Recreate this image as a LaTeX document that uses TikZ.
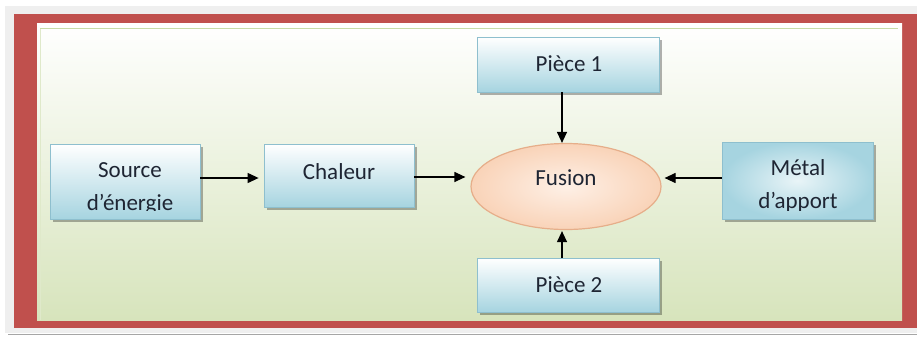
\documentclass[tikz,border=0pt]{standalone}
\usepackage{fontspec}
\setmainfont{Carlito}
\usetikzlibrary{shapes.geometric,shadows,arrows.meta}
\definecolor{redframe}{HTML}{C0504D}
\definecolor{outergray}{HTML}{EFEFEF}
\definecolor{panelgreen}{HTML}{D7E4BC}
\definecolor{panelline}{HTML}{C9DBA6}
\definecolor{boxblue}{HTML}{A6D4E0}
\definecolor{boxline}{HTML}{8EBFCE}
\definecolor{peachin}{HTML}{FEF0E6}
\definecolor{peachout}{HTML}{F9D3B8}
\definecolor{peachline}{HTML}{E6AE8A}
\definecolor{textdark}{HTML}{1E2533}
\begin{document}
\begin{tikzpicture}[x=1pt,y=-1pt,
  box/.style={draw=boxline, line width=0.8pt, top color=white, bottom color=boxblue,
    drop shadow={shadow xshift=3pt, shadow yshift=-3pt, fill=black, opacity=0.3},
    inner sep=0pt},
  fusionshape/.style={ellipse, draw=peachline, line width=1.2pt, shading=radial, inner color=peachin, outer color=peachout,
    minimum width=190pt, minimum height=86pt, inner sep=0pt},
  lbl/.style={anchor=base, font=\fontsize{23}{27}\selectfont, text=textdark, inner sep=0pt},
  arr/.style={-{Triangle[length=11pt,width=10pt]}, line width=1.2pt, black}
]
\useasboundingbox (0,0) rectangle (917,338);
% background and frame
\fill[white] (0,0) rectangle (917,338);
\fill[outergray] (5,6) rectangle (917,333);
\draw[gray!70, line width=1pt] (8,334.5) -- (917,334.5);
\fill[redframe] (14,14) rectangle (917,328);
\shade[top color=white, bottom color=panelgreen] (37,23) rectangle (902,320);
\draw[panelline, line width=1pt] (40,28.5) -- (898,28.5);
\draw[panelline!60, line width=1pt] (40.5,28.5) -- (40.5,320);

% boxes
\node[box, minimum width=150pt, minimum height=75pt] (src) at (125,181.5) {};
\node[box, minimum width=150pt, minimum height=63pt] (chal) at (339,175.5) {};
\node[box, minimum width=182pt, minimum height=55pt] (p1) at (568,64.5) {};
\node[box, minimum width=182pt, minimum height=54pt] (p2) at (568,285) {};
\node[box, minimum width=151pt, minimum height=77pt, shading=radial, inner color=white!75!boxblue, outer color=boxblue] (met) at (797.5,180.5) {};
\node[fusionshape] (fus) at (566,186.5) {};

% labels
\begin{scope}
\clip (50,144) rectangle (200,210);
\node[lbl] (srct1) at (130,177) {Source};
\node[lbl] (srct2) at (130,210) {d’énergie};
\end{scope}
\node[lbl] (chalt) at (339,179) {Chaleur};
\node[lbl] (fust) at (566,185) {Fusion};
\node[lbl] (p1t) at (569,71) {Pièce 1};
\node[lbl] (p2t) at (569,292) {Pièce 2};
\begin{scope}
\clip (722,142) rectangle (873,210);
\node[lbl] (mett1) at (798,175) {Métal};
\node[lbl] (mett2) at (798,208) {d’apport};
\end{scope}

% connectors
\draw[arr, shorten >=5pt] ([yshift=3.5pt]src.east) -- ([yshift=3.5pt]src.east -| chal.west);
\draw[arr, shorten >=5pt] ([yshift=-1.5pt]chal.east) -- ([yshift=-1.5pt]chal.east -| fus.west);
\draw[arr] ([xshift=-6pt]p1.south) -- ([xshift=-6pt]p1.south |- fus.north);
\draw[arr, shorten >=1pt] ([xshift=-6pt]p2.north) -- ([xshift=-6pt]p2.north |- fus.south);
\draw[arr, shorten >=3pt] ([yshift=2.5pt]met.west) -- ([yshift=2.5pt]met.west -| fus.east);
\end{tikzpicture}
\end{document}
